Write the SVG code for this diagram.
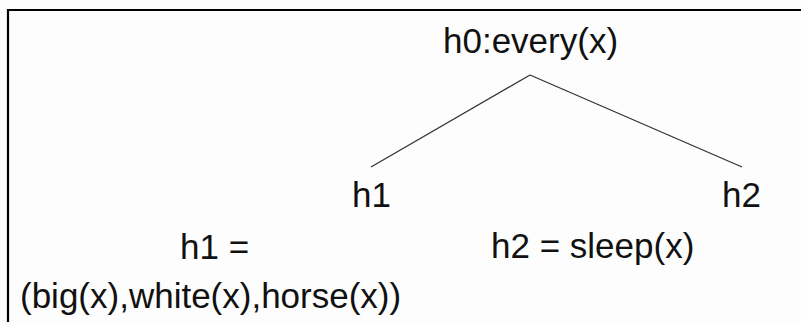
<svg xmlns="http://www.w3.org/2000/svg" width="801" height="322" viewBox="0 0 801 322">
<style>
text{font-family:"Liberation Sans",Arial,sans-serif;font-size:35px;fill:#111}
.edge{stroke:#333;stroke-width:1.3;fill:none}
</style>
<rect width="801" height="322" fill="#fdfdfd"/>
<path d="M8 322 V10 H801" fill="none" stroke="#000" stroke-width="2.2"/>
<g id="connectors">
<line class="edge" x1="530" y1="75" x2="371" y2="167"/>
<line class="edge" x1="530" y1="75" x2="742" y2="167"/>
</g>
<g id="h0"><text x="443" y="53">h0:every(x)</text></g>
<g id="h1"><text x="352" y="207">h1</text></g>
<g id="h2"><text x="722" y="207">h2</text></g>
<g id="h1def"><text x="180" y="259">h1 =</text><text x="20" y="308">(big(x),white(x),horse(x))</text></g>
<g id="h2def"><text x="491" y="258">h2 = sleep(x)</text></g>
</svg>
